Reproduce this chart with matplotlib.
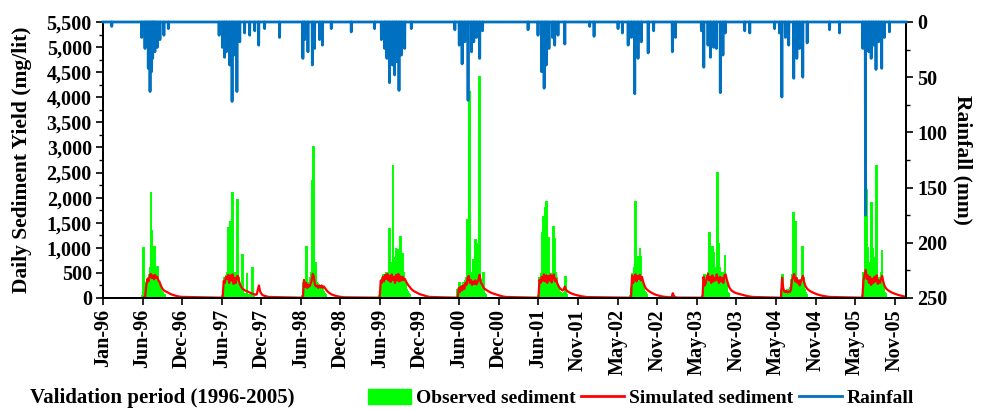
import matplotlib
matplotlib.use("Agg")
import matplotlib.pyplot as plt
import matplotlib.patches as mpatches
import matplotlib.lines as mlines
from matplotlib.ticker import FuncFormatter, MultipleLocator
import pandas as pd

plt.rcParams['font.family'] = 'Liberation Serif'
plt.rcParams['font.weight'] = 'bold'
plt.rcParams['axes.labelweight'] = 'bold'

# observed sediment (mg/lit), one value every 3 days from each season start
obs_start = ['1996-06-29', '1997-06-28', '1998-06-25', '1999-06-12', '2000-05-29',
             '2001-06-03', '2002-07-28', '2003-06-19', '2004-06-10', '2005-06-15']
obs_96 = [30, 1000, 60, 80, 120, 200, 300, 350, 280, 400, 320, 450, 600, 2120, 1330, 500,
          380, 600, 1020, 450, 350, 420, 300, 620, 300, 250, 200, 180, 150, 120, 100, 80, 60, 50]
obs_97 = [30, 100, 350, 400, 300, 450, 380, 500, 1420, 400, 350, 1540, 500, 420, 550, 2090,
          450, 380, 500, 400, 350, 450, 500, 1950, 400, 300, 250, 200, 150, 120, 860, 100,
          80, 70, 60, 50, 80, 500, 60, 50, 40, 40, 40, 40, 50, 600, 50, 40]
obs_98 = [30, 100, 300, 250, 350, 300, 1010, 400, 250, 200, 300, 250, 350, 400, 500, 2350,
          600, 3000, 700, 500, 700, 400, 300, 250, 300, 250, 200, 250, 200, 180, 200, 150,
          120, 100, 80, 60]
obs_99 = [40, 100, 350, 300, 400, 350, 450, 380, 420, 350, 500, 400, 450, 500, 600, 1370,
          700, 500, 450, 600, 2650, 800, 550, 600, 700, 1000, 600, 950, 800, 650, 600, 700,
          1220, 500, 450, 880, 500, 350, 300, 250, 200, 150, 120, 100, 80, 60]
obs_00 = [40, 150, 100, 200, 300, 150, 250, 200, 150, 200, 300, 250, 350, 300, 400, 350,
          1560, 500, 3310, 4110, 500, 400, 350, 450, 400, 760, 500, 900, 1150, 800, 1100,
          500, 400, 600, 4400, 500, 350, 300, 200, 150, 500, 100, 80, 60]
obs_01 = [40, 200, 400, 350, 500, 450, 1290, 600, 1620, 700, 1810, 600, 1910, 1650, 700,
          1200, 500, 450, 400, 500, 450, 400, 600, 1420, 600, 1200, 500, 400, 300, 250, 200,
          150, 120, 100, 80, 70, 60, 50, 50, 60, 100, 420, 80, 50]
obs_02 = [40, 200, 500, 400, 350, 450, 600, 1920, 700, 500, 450, 400, 820, 600, 990, 820,
          400, 350, 300, 200, 150, 120, 100, 80, 60]
obs_03 = [40, 200, 350, 460, 300, 400, 350, 450, 400, 500, 450, 1290, 600, 500, 450, 1020,
          700, 900, 600, 500, 550, 500, 600, 2490, 700, 1090, 600, 500, 400, 450, 500, 400,
          350, 500, 860, 400, 250, 150, 100, 80, 60]
obs_04 = [30, 150, 460, 150, 100, 120, 80, 100, 120, 100, 150, 120, 100, 150, 200, 250,
          350, 450, 400, 1690, 500, 400, 1520, 450, 400, 300, 350, 300, 250, 300, 350, 300,
          400, 1020, 400, 200, 150, 100, 80, 60]
obs_05 = [40, 300, 500, 400, 1700, 3000, 2150, 800, 1000, 600, 500, 700, 500, 1000, 1890,
          600, 1000, 500, 400, 500, 800, 2630, 600, 400, 350, 300, 400, 350, 300, 500, 960,
          300, 200, 150, 100, 80]

# simulated sediment (mg/lit), one value every 5 days from each season start
sim_start = ['1996-07-01', '1997-06-28', '1998-06-28', '1999-06-12', '2000-06-01',
             '2001-06-03', '2002-07-29', '2003-06-19', '2004-06-10', '2005-06-15']
sim_96 = [5, 10, 40, 250, 380, 330, 430, 480, 400, 450, 370, 460, 400, 420, 350, 320, 260,
          210, 175, 150, 138, 126, 112, 100, 90, 80, 70, 62, 55, 48, 42, 37, 32, 28, 25, 22]
sim_97 = [5, 340, 300, 420, 380, 460, 300, 450, 350, 470, 280, 400, 300, 430, 440, 330, 260,
          220, 190, 170, 155, 145, 135, 125, 115, 105, 95, 85, 78, 70, 65, 70, 160, 250, 140,
          90, 65, 50, 42, 36, 30, 25, 20]
sim_98 = [5, 360, 220, 300, 200, 260, 230, 280, 350, 480, 420, 260, 230, 250, 200, 240, 210,
          250, 200, 230, 200, 170, 140, 120, 100, 85, 72, 62, 54, 47, 41, 36, 31, 27, 23, 20,
          17, 14]
sim_99 = [5, 350, 300, 420, 330, 460, 380, 480, 350, 440, 320, 470, 360, 420, 300, 460, 350,
          480, 330, 430, 350, 420, 360, 380, 330, 290, 255, 230, 200, 175, 155, 138, 126, 112,
          100, 90, 80, 72, 65, 60, 52, 45, 38, 32, 27, 23, 20]
sim_00 = [5, 200, 120, 230, 150, 250, 180, 300, 260, 400, 440, 300, 360, 260, 330, 280, 350,
          270, 320, 380, 460, 300, 280, 230, 190, 175, 160, 145, 132, 120, 108, 98, 90, 84,
          78, 70, 62, 55, 48, 42, 36, 30, 26, 23, 20]
sim_01 = [5, 360, 300, 420, 340, 470, 330, 450, 300, 440, 350, 460, 310, 420, 470, 330, 380,
          300, 250, 210, 185, 165, 150, 170, 226, 170, 140, 126, 112, 100, 90, 82, 74, 67, 61,
          55, 49, 44, 39, 35, 31, 27, 24, 21, 18]
sim_02 = [5, 450, 300, 420, 470, 330, 440, 380, 460, 350, 420, 330, 260, 210, 180, 160, 140,
          126, 112, 100, 88, 78, 69, 61, 54, 48, 42, 37, 32, 28, 25, 22, 19, 17, 15, 13, 12,
          20, 95, 40, 20, 12, 8]
sim_03 = [5, 420, 250, 300, 400, 480, 350, 420, 300, 450, 330, 400, 350, 470, 380, 300, 420,
          330, 400, 300, 450, 470, 380, 300, 230, 190, 160, 140, 125, 112, 102, 94, 87, 82, 76,
          70, 64, 58, 52, 46, 41, 36, 32, 28, 25, 22, 20]
sim_04 = [5, 405, 200, 130, 120, 140, 110, 130, 120, 160, 350, 420, 478, 330, 400, 300, 350,
          250, 330, 380, 440, 320, 250, 210, 180, 160, 145, 130, 118, 108, 98, 88, 80, 72, 65,
          58, 52, 47, 42, 38, 34, 30, 27, 24, 22, 20]
sim_05 = [5, 350, 450, 560, 380, 450, 300, 420, 260, 380, 300, 420, 330, 450, 280, 350, 300,
          380, 440, 330, 250, 210, 180, 160, 145, 130, 118, 107, 97, 88, 80, 72, 65, 58, 52,
          46, 40, 35, 30, 26]

# daily rainfall (mm); days not listed had no rain
rain_dates = ['1996-02-10', '1996-06-25', '1996-07-10', '1996-07-18', '1996-07-25', '1996-08-02',
              '1996-08-09', '1996-08-14', '1996-08-19', '1996-08-24', '1996-09-04', '1996-09-16',
              '1996-10-04', '1996-10-24',
              '1997-06-12', '1997-06-27', '1997-07-07', '1997-07-15', '1997-07-30', '1997-08-10',
              '1997-08-19', '1997-09-01', '1997-09-14', '1997-10-06', '1997-10-29', '1997-11-21',
              '1997-12-09', '1998-01-05', '1998-03-14',
              '1998-06-28', '1998-07-06', '1998-07-21', '1998-08-10', '1998-08-20', '1998-09-12',
              '1998-09-25', '1998-11-04', '1999-02-03',
              '1999-05-20', '1999-06-20', '1999-07-05', '1999-07-15', '1999-07-27', '1999-08-09',
              '1999-08-19', '1999-08-27', '1999-09-08', '1999-09-19', '1999-10-04', '1999-11-03',
              '2000-05-19', '2000-06-08', '2000-06-21', '2000-07-03', '2000-07-18', '2000-08-03',
              '2000-08-13', '2000-08-25', '2000-09-09', '2000-09-22',
              '2001-04-17', '2001-06-01', '2001-06-17', '2001-06-29', '2001-07-09', '2001-07-21',
              '2001-08-06', '2001-08-16', '2001-08-31', '2001-10-01', '2002-01-22', '2002-02-11',
              '2002-05-31', '2002-06-20', '2002-07-16', '2002-07-31', '2002-08-15', '2002-08-30',
              '2002-09-14', '2002-10-15', '2002-11-09', '2003-02-02', '2003-02-16',
              '2003-06-14', '2003-06-25', '2003-07-14', '2003-07-25', '2003-08-09', '2003-08-21',
              '2003-09-08', '2003-09-20', '2003-10-01', '2003-12-28', '2004-01-20', '2004-05-12',
              '2004-06-03', '2004-06-14', '2004-06-30', '2004-07-15', '2004-08-07', '2004-08-21',
              '2004-09-02', '2004-09-17', '2004-10-07', '2005-01-17', '2005-03-03',
              '2005-06-17', '2005-06-29', '2005-07-14', '2005-07-25', '2005-08-04', '2005-08-16',
              '2005-08-28', '2005-09-11', '2005-09-23', '2005-10-16']
rain_mm = [4, 14, 24, 21, 42, 63, 45, 33, 25, 27, 23, 16, 12, 6,
           12, 23, 32, 27, 39, 72, 30, 63, 18, 10, 12, 8, 21, 6, 14,
           33, 16, 27, 39, 24, 16, 21, 6, 9,
           6, 16, 24, 33, 55, 39, 48, 36, 62, 30, 24, 6,
           7, 21, 38, 18, 71, 27, 18, 14, 33, 8,
           7, 12, 45, 60, 39, 24, 14, 21, 12, 20, 4, 13,
           6, 10, 21, 14, 65, 33, 18, 28, 8, 27, 14,
           8, 41, 21, 32, 23, 24, 64, 30, 10, 8, 10, 6,
           10, 68, 14, 21, 51, 33, 24, 50, 19, 7, 10,
           24, 175, 27, 33, 21, 43, 18, 42, 14, 9]

obs_lists = [obs_96, obs_97, obs_98, obs_99, obs_00, obs_01, obs_02, obs_03, obs_04, obs_05]
sim_lists = [sim_96, sim_97, sim_98, sim_99, sim_00, sim_01, sim_02, sim_03, sim_04, sim_05]

obs = pd.concat([pd.Series(v, index=pd.date_range(s, periods=len(v), freq='3D'))
                 for s, v in zip(obs_start, obs_lists)])
sim = pd.concat([pd.Series(v, index=pd.date_range(s, periods=len(v), freq='5D'))
                 for s, v in zip(sim_start, sim_lists)])
rain = pd.Series(0.0, index=pd.date_range('1996-01-01', '2005-12-31', freq='D'))
rain[pd.to_datetime(rain_dates)] = rain_mm

GREEN = '#00FF00'
RED = '#FF0000'
BLUE = '#0070C0'

fig = plt.figure(figsize=(9.94, 4.11), dpi=100)
ax = fig.add_axes([0.1036, 0.275, 0.808, 0.6715])

ax.bar(obs.index, obs.values, width=3, color=GREEN, edgecolor=GREEN, linewidth=1.4, zorder=2)
ax.plot(sim.index, sim.values, color=RED, lw=1.6, zorder=3)

ax.set_ylim(0, 5500)
ax.set_xlim(pd.Timestamp('1996-01-01'), pd.Timestamp('2005-12-31'))
ax.yaxis.set_major_locator(MultipleLocator(500))
ax.yaxis.set_minor_locator(MultipleLocator(250))
ax.yaxis.set_major_formatter(FuncFormatter(lambda v, p: f'{v:,.0f}'))

ticks = pd.date_range('1996-01-01', periods=21, freq='180D')
ax.set_xticks(ticks)
ax.set_xticklabels([t.strftime('%b-%y') for t in ticks], rotation=90)

ax.set_ylabel('Daily Sediment Yield (mg/lit)', fontsize=15.5)
ax.yaxis.set_label_coords(-0.088, 0.5)

ax2 = ax.twinx()
ax2.plot(rain.index, rain.values, color=BLUE, lw=2.0, clip_on=False, zorder=4)
ax2.set_ylim(250, 0)
ax2.yaxis.set_major_locator(MultipleLocator(50))
ax2.yaxis.set_minor_locator(MultipleLocator(25))
ax2.set_ylabel('Rainfall (mm)', fontsize=15.5, rotation=270)
ax2.yaxis.set_label_coords(1.083, 0.5)

for a in (ax, ax2):
    a.spines['top'].set_visible(False)
    for s in ('left', 'right', 'bottom'):
        a.spines[s].set_linewidth(1.4)
    a.tick_params(axis='both', which='major', direction='out', length=5, width=1.2,
                  labelsize=14.5, pad=3)
    a.tick_params(axis='both', which='minor', direction='out', length=3, width=1.0)

fig.text(0.03, 0.032, 'Validation period (1996-2005)', fontsize=15, fontweight='bold',
         va='center', ha='left')

handles = [mpatches.Patch(color=GREEN, label='Observed sediment'),
           mlines.Line2D([], [], color=RED, lw=2, label='Simulated sediment'),
           mlines.Line2D([], [], color=BLUE, lw=2, label='Rainfall')]
fig.legend(handles=handles, loc='center', bbox_to_anchor=(0.645, 0.032), ncol=3,
           frameon=False, fontsize=14, handlelength=2.2, handleheight=0.8,
           handletextpad=0.25, columnspacing=0.3, borderpad=0.1)

fig.savefig('out.png', dpi=100)
